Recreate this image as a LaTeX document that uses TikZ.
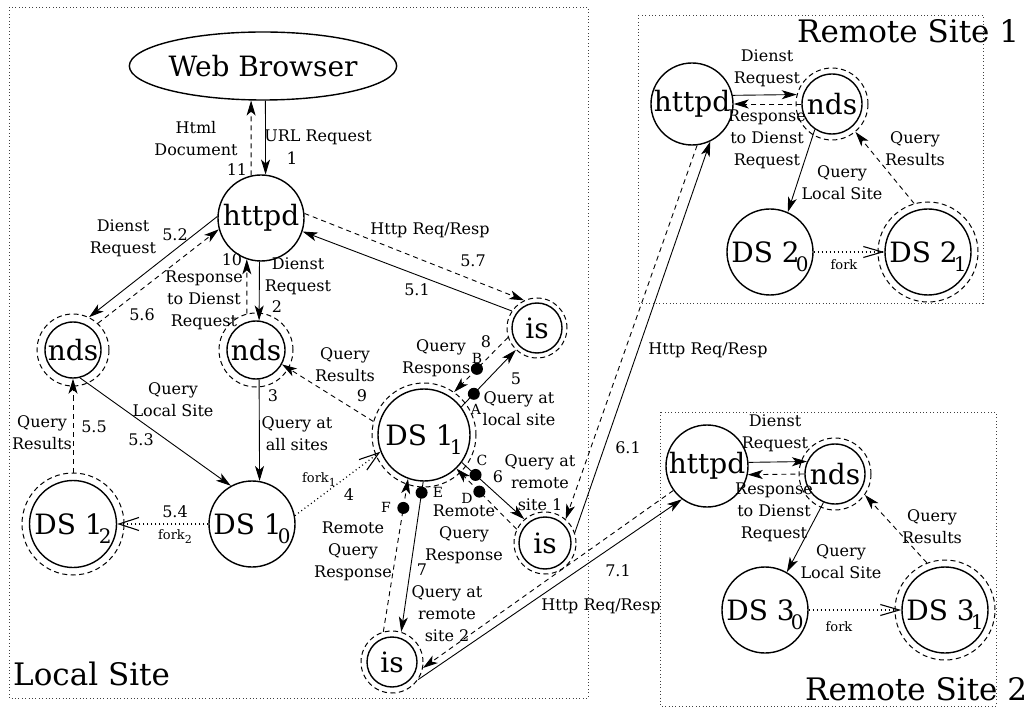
\documentclass[tikz,border=0pt]{standalone}
\usepackage{fontspec}
\setmainfont{DejaVu Serif}
\usetikzlibrary{arrows.meta,shapes.geometric}

% process name with a lowered index, e.g. DS 1 with index 0
\newcommand{\dsname}[2]{#1\kern-0.14em\raisebox{-0.32em}[0pt][0pt]{\fontsize{20}{20}\selectfont #2}}
\newcommand{\forkname}[1]{fork\raisebox{-0.3em}{\fontsize{11}{11}\selectfont #1}}

\tikzset{
  bigtext/.style={font=\fontsize{28}{30}\selectfont},
  lbl/.style={font=\fontsize{16}{22}\selectfont, align=center, inner sep=0pt},
  letter/.style={font=\fontsize{14}{16}\selectfont, inner sep=0pt},
  forktext/.style={font=\fontsize{13}{15}\selectfont, inner sep=0pt},
  sitetext/.style={font=\fontsize{31}{34}\selectfont, inner sep=0pt, anchor=base west},
  proc/.style={circle, draw, line width=1.4pt, inner sep=0pt, bigtext},
  ringc/.style={circle, draw, line width=1pt, dash pattern=on 5pt off 3.5pt, inner sep=0pt},
  sitebox/.style={draw=black!75, line width=0.7pt, dash pattern=on 0.8pt off 2.6pt},
  sol/.style={line width=0.9pt, -{Stealth[length=15pt,width=9pt,inset=4pt]}},
  dsh/.style={sol, dash pattern=on 5pt off 4pt},
  forkl/.style={line width=1.2pt, dash pattern=on 1pt off 3pt,
                -{Straight Barb[length=20pt,width=13pt,line width=1.1pt]}},
  forkm/.style={forkl, -{Straight Barb[length=19pt,width=11pt,line width=1.1pt]}},
  dotn/.style={circle, fill, inner sep=0pt, minimum size=12pt},
}

\begin{document}
\begin{tikzpicture}[x=1pt,y=-1pt]
\useasboundingbox (0,0) rectangle (1036,708);

% site frames
\draw[sitebox] (9,7) rectangle (588,698);
\draw[sitebox] (638,15) rectangle (983,303);
\draw[sitebox] (660,412) rectangle (996,706);

\node[sitetext] (tLocal) at (13,685) {Local Site};
\node[sitetext] (tRemA) at (797,43) {Remote Site 1};
\node[sitetext] (tRemB) at (805,700) {Remote Site 2};

% ---------- local site processes ----------
\node[ellipse, draw, line width=1.4pt, minimum width=196pt, minimum height=68pt,
      inner sep=0pt, bigtext] (wb) at (263,66) {Web Browser};
\node[proc, minimum size=86pt] (h1) at (261,218) {httpd};

\node[ringc, minimum size=72pt] (ndsAr) at (73,350) {};
\node[proc, minimum size=56pt] (ndsA) at (73,350) {nds};
\node[ringc, minimum size=74pt] (ndsBr) at (256,350) {};
\node[proc, minimum size=58pt] (ndsB) at (256,350) {nds};

\node[ringc, minimum size=102pt] (DS12r) at (73,524) {};
\node[proc, minimum size=87pt] (DS12) at (73,524) {\dsname{DS 1}{2}};
\node[proc, minimum size=86pt] (DS10) at (252,524) {\dsname{DS 1}{0}};
\node[ringc, minimum size=104pt] (DS11r) at (424,435) {};
\node[proc, minimum size=92pt] (DS11) at (424,435) {\dsname{DS 1}{1}};

\node[ringc, minimum size=60pt] (isTr) at (537,328) {};
\node[proc, minimum size=50pt] (isT) at (537,328) {is};
\node[ringc, minimum size=62pt] (isMr) at (545,543) {};
\node[proc, minimum size=52pt] (isM) at (545,543) {is};
\node[ringc, minimum size=62pt] (isBr) at (392,662) {};
\node[proc, minimum size=50pt] (isB) at (392,662) {is};

% ---------- remote site 1 ----------
\node[proc, minimum size=82pt] (h2) at (692,104) {httpd};
\node[ringc, minimum size=72pt] (nds2r) at (832,104) {};
\node[proc, minimum size=60pt] (nds2) at (832,104) {nds};
\node[proc, minimum size=86pt] (DS20) at (770,252) {\dsname{DS 2}{0}};
\node[ringc, minimum size=100pt] (DS21r) at (928,252) {};
\node[proc, minimum size=86pt] (DS21) at (928,252) {\dsname{DS 2}{1}};

% ---------- remote site 2 ----------
\node[proc, minimum size=82pt] (h3) at (707,466) {httpd};
\node[ringc, minimum size=72pt] (nds3r) at (835,474) {};
\node[proc, minimum size=60pt] (nds3) at (835,474) {nds};
\node[proc, minimum size=86pt] (DS30) at (765,610) {\dsname{DS 3}{0}};
\node[ringc, minimum size=100pt] (DS31r) at (945,610) {};
\node[proc, minimum size=86pt] (DS31) at (945,610) {\dsname{DS 3}{1}};

% ---------- labels ----------
\node[lbl] (lURL) at (318,137) {URL Request};
\node[lbl, font=\fontsize{17}{20}\selectfont] (lOne) at (292,158) {1};
\node[lbl] (lHtml) at (196,139) {Html\\Document};
\node[lbl] (lEleven) at (237,170) {11};
\node[lbl] (lDrL) at (123,238) {Dienst\\Request};
\node[lbl] (l52) at (175,235) {5.2};
\node[lbl] (lTen) at (232,260) {10};
\node[lbl] (lDrM) at (298,276) {Dienst\\Request};
\node[lbl] (lTwo) at (277,307) {2};
\node[lbl] (lResp) at (204,300) {Response\\to Dienst\\Request};
\node[lbl] (l56) at (142,315) {5.6};
\node[lbl] (lHttpA) at (430,230) {Http Req/Resp};
\node[lbl] (l57) at (473,261) {5.7};
\node[lbl] (l51) at (417,290) {5.1};
\node[lbl] (lQLS) at (173,400) {Query\\Local Site};
\node[lbl] (l53) at (141,440) {5.3};
\node[lbl] (lQRa) at (42,433) {Query\\Results};
\node[lbl] (l55) at (94,427) {5.5};
\node[lbl] (lThree) at (273,396) {3};
\node[lbl] (lQAS) at (297,434) {Query at\\all sites};
\node[lbl] (lQRb) at (345,365) {Query\\Results};
\node[lbl] (lNine) at (362,396) {9};
\node[lbl] (l54) at (175,512) {5.4};
\node[forktext] (lFork2) at (175,537) {\forkname{2}};
\node[forktext] (lFork1) at (319,480) {\forkname{1}};
\node[lbl] (lFour) at (349,495) {4};
\node[lbl] (lQResp) at (441,358) {Query\\Response};
\node[lbl] (lEight) at (486,342) {8};
\node[letter] (lB) at (477,358) {B};
\node[lbl] (lFive) at (516,379) {5};
\node[letter] (lA) at (476,409) {A};
\node[lbl] (lQLoc) at (519,409) {Query at\\local site};
\node[letter] (lC) at (482,460) {C};
\node[lbl] (lSix) at (498,477) {6};
\node[lbl] (lQR1) at (540,483) {Query at\\remote\\site 1};
\node[letter] (lD) at (467,498) {D};
\node[lbl] (lRQR1) at (464,534) {Remote\\Query\\Response};
\node[letter] (lE) at (438,492) {E};
\node[letter] (lF) at (386,507) {F};
\node[lbl] (lRQR2) at (353,551) {Remote\\Query\\Response};
\node[lbl] (lSeven) at (422,570) {7};
\node[lbl] (lQR2) at (447,614) {Query at\\remote\\site 2};
\node[lbl] (l61) at (628,448) {6.1};
\node[lbl] (lHttpB) at (708,350) {Http Req/Resp};
\node[lbl] (l71) at (618,571) {7.1};
\node[lbl] (lHttpC) at (601,606) {Http Req/Resp};

\node[lbl] (lDr2) at (767,68) {Dienst\\Request};
\node[lbl] (lResp2) at (767,139) {Response\\to Dienst\\Request};
\node[lbl] (lQLS2) at (842,183) {Query\\Local Site};
\node[lbl] (lQRc) at (915,149) {Query\\Results};
\node[forktext] (lFk2) at (844,265) {fork};

\node[lbl] (lDr3) at (775,433) {Dienst\\Request};
\node[lbl] (lResp3) at (774,512) {Response\\to Dienst\\Request};
\node[lbl] (lQLS3) at (841,562) {Query\\Local Site};
\node[lbl] (lQRd) at (932,527) {Query\\Results};
\node[forktext] (lFk3) at (839,627) {fork};

% ---------- local site connectors ----------
\draw[sol] (wb.-86.6) -- (h1.84.7);
\draw[dsh] (h1.103.4) -- (wb.-109.4);
\draw[sol] (h1.-92.7) -- (ndsB.84);
\draw[dsh] (ndsBr.104.1) -- (h1.-109);
\draw[sol] (h1.178) -- (ndsAr.64.9);
\draw[dsh] (ndsAr.47.2) -- (h1.195);
\draw[sol] (ndsA.-76) -- (DS10.119.4);
\draw[dsh] (DS12r.90) -- (ndsA.-90);
\draw[sol] (ndsB.-84) -- (DS10.80.6);
\draw[dsh] (DS11r.165.7) -- (ndsB.-29);
\draw[forkl] (DS10.180) -- (DS12.0);
\draw[forkl] (DS10.11.8) -- (DS11.201.1);
\draw[sol] (isTr.146.3) -- (h1.-18.4);
\draw[dsh] (h1.6.8) -- (isTr.115);

\draw[sol] (DS11.37.9) -- node[dotn, pos=0.23] (dA) {} (isTr.226.2);
\draw[dsh] (isTr.198.4) -- node[dotn, pos=0.576] (dB) {} (DS11r.55);
\draw[sol] (DS11.-36.3) -- node[dotn, pos=0.22] (dC) {} (isMr.131.3);
\draw[dsh] (isMr.154.3) -- node[dotn, pos=0.62] (dD) {} (DS11.-46);
\draw[sol] (DS11.-91.2) -- node[dotn, pos=0.073] (dE) {} (isBr.73.3);
\draw[dsh] (isBr.106.7) -- node[dotn, pos=0.81] (dF) {} (DS11.-110.4);

% ---------- links between the sites ----------
\draw[sol] (isMr.19.7) -- (h2.-64.5);
\draw[dsh] (h2.-83.4) -- (isMr.49.8);
\draw[sol] (isBr.-34.7) -- (h3.233.1);
\draw[dsh] (h3.216.3) -- (isBr.-11);

% ---------- remote site 1 connectors ----------
\draw[sol] (h2.12.7) -- (nds2r.165.5);
\draw[dsh] (nds2.180) -- (h2.0);
\draw[sol] (nds2.236.9) -- (DS20.66.8);
\draw[dsh] (DS21r.106.7) -- (nds2r.-50.6);
\draw[forkm] (DS20.0) -- (DS21.180);

% ---------- remote site 2 connectors ----------
\draw[sol] (h3.5.6) -- (nds3.156.4);
\draw[dsh] (nds3.180) -- (h3.-12.7);
\draw[sol] (nds3.248.8) -- (DS30.60.1);
\draw[dsh] (DS31r.111) -- (nds3r.-35.1);
\draw[forkm] (DS30.0) -- (DS31.180);
\end{tikzpicture}
\end{document}
